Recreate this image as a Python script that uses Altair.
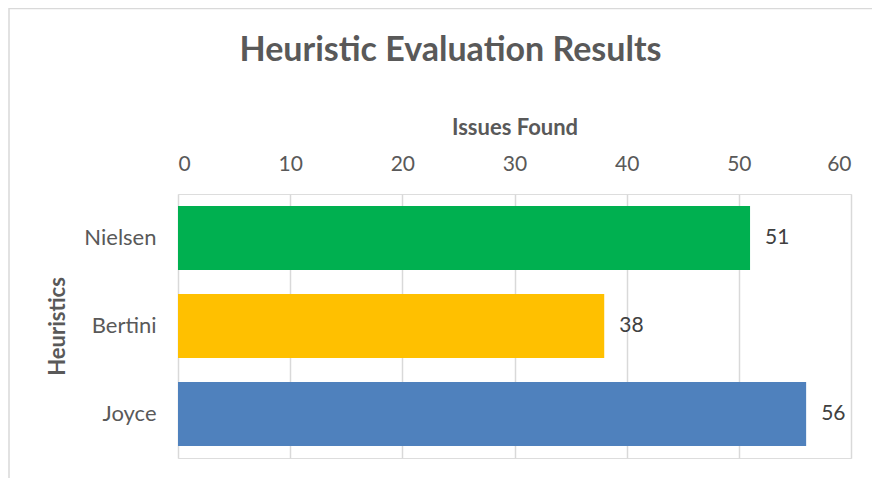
import altair as alt
import pandas as pd

heuristics = ["Nielsen", "Bertini", "Joyce"]
issues = [51, 38, 56]
bar_colors = ["#00B050", "#FFC000", "#4F81BD"]
ticks = [0, 10, 20, 30, 40, 50, 60]

df = pd.DataFrame({"Heuristic": heuristics, "Issues": issues, "Color": bar_colors})

FONT = "Lato"
GREY = "#595959"

base = alt.Chart(df)

y_enc = alt.Y(
    "Heuristic:N",
    sort=heuristics,
    scale=alt.Scale(paddingInner=0.273, paddingOuter=0.136),
    axis=alt.Axis(
        title="Heuristics",
        titleFont=FONT,
        titleFontSize=22,
        titleFontWeight="bold",
        titleColor=GREY,
        titlePadding=14,
        labelFont=FONT,
        labelFontSize=22,
        labelColor=GREY,
        labelPadding=22,
        ticks=False,
        domain=False,
        grid=False,
    ),
)
x_enc = alt.X(
    "Issues:Q",
    scale=alt.Scale(domain=[0, 60], nice=False),
    axis=alt.Axis(
        orient="top",
        values=ticks,
        title="Issues Found",
        titleFont=FONT,
        titleFontSize=22,
        titleFontWeight="bold",
        titleColor=GREY,
        titlePadding=14,
        labelFont=FONT,
        labelFontSize=21,
        labelColor=GREY,
        labelPadding=20,
        ticks=False,
        domain=False,
        grid=True,
        gridColor="#d9d9d9",
        gridWidth=1.5,
    ),
)

bars = base.mark_bar().encode(
    y=y_enc,
    x=x_enc,
    color=alt.Color("Color:N", scale=None),
)

labels = base.mark_text(
    align="left", baseline="middle", dx=15, font=FONT, fontSize=21, color="#404040"
).encode(
    y=alt.Y("Heuristic:N", sort=heuristics),
    x=alt.X("Issues:Q"),
    text=alt.Text("Issues:Q"),
)

frame = alt.Chart(pd.DataFrame({"f": [0]})).mark_rect(
    fill=None, stroke="#d9d9d9", strokeWidth=1.5
).encode(
    x=alt.value(-169),
    x2=alt.value(720),
    y=alt.value(-185.5),
    y2=alt.value(320),
)

chart = (
    alt.layer(frame, bars, labels)
    .properties(
        width=673,
        height=264,
        autosize=alt.AutoSizeParams(type="none"),
        padding={"left": 170, "top": 186, "right": 21, "bottom": 20},
        title=alt.TitleParams(
            "Heuristic Evaluation Results",
            font=FONT,
            fontSize=34,
            fontWeight="bold",
            color=GREY,
            anchor="middle",
            dx=-64,
            dy=64,
        ),
    )
    .configure_view(stroke=None, strokeWidth=0)
    .configure_axis(domain=False)
    .configure(background="white")
)

chart.save("out.html", embed_options={"renderer": "svg", "actions": False})
